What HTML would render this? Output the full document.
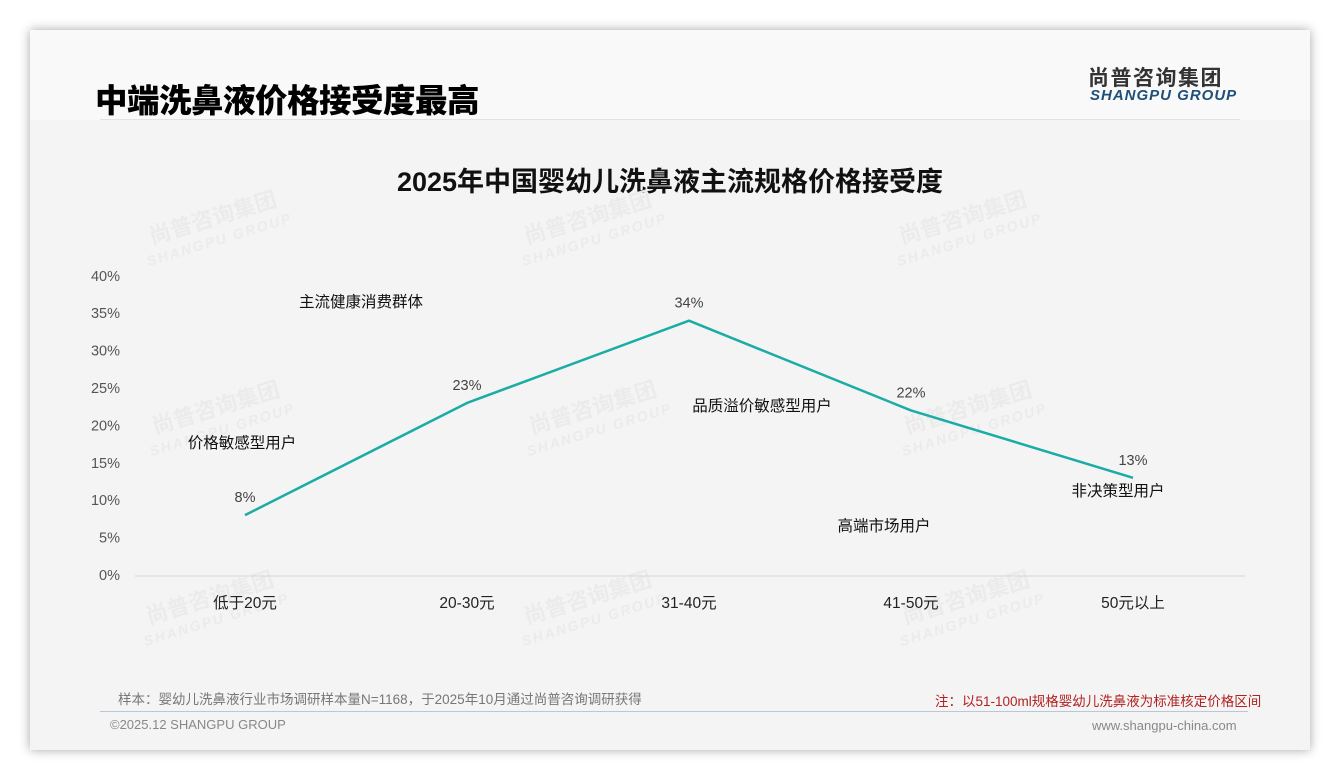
<!DOCTYPE html>
<html><head><meta charset="utf-8">
<style>
body{margin:0;width:1340px;height:780px;background:#fff;font-family:"Liberation Sans","Noto Sans CJK SC",sans-serif;position:relative;overflow:hidden}
.card{position:absolute;left:30px;top:30px;width:1280px;height:720px;background:#f4f4f4;box-shadow:0 0 10px rgba(0,0,0,0.35)}
.top{position:absolute;left:0;top:0;width:1280px;height:90px;background:#f9f9f9}
.abs{position:absolute;white-space:nowrap}
</style></head><body>
<div class="card">
<div class="top"></div>
</div>
<div class="abs" style="left:95px;top:75px;font-size:32.5px;font-weight:900;color:#000;letter-spacing:-0.5px">中端洗鼻液价格接受度最高</div>
<div class="abs" style="left:100px;top:119px;width:1140px;height:1px;background:#e2e2e2"></div>
<div class="abs" style="left:1088px;top:62px;font-size:21px;font-weight:bold;color:#333;letter-spacing:1.5px">尚普咨询集团</div>
<div class="abs" style="left:1090px;top:87px;font-size:15px;font-weight:bold;font-style:italic;color:#1e4f7a;letter-spacing:1px">SHANGPU GROUP</div>
<div class="abs" style="left:0;width:1340px;text-align:center;top:160px;font-size:27px;font-weight:bold;color:#111">2025年中国婴幼儿洗鼻液主流规格价格接受度</div>
<svg id="chart" width="1340" height="780" style="position:absolute;left:0;top:0"></svg>
<div class="abs" style="left:118px;top:688px;font-size:13.5px;color:#777">样本：婴幼儿洗鼻液行业市场调研样本量N=1168，于2025年10月通过尚普咨询调研获得</div>
<div class="abs" style="left:935px;top:690px;font-size:13.5px;color:#b22222">注：以51-100ml规格婴幼儿洗鼻液为标准核定价格区间</div>
<div class="abs" style="left:100px;top:711px;width:1148px;height:1px;background:#b8c8d8"></div>
<div class="abs" style="left:110px;top:717px;font-size:13px;color:#888">©2025.12 SHANGPU GROUP</div>
<div class="abs" style="left:1092px;top:718px;font-size:13px;color:#888">www.shangpu-china.com</div>
<script>
const categories=["低于20元","20-30元","31-40元","41-50元","50元以上"];
const values=[8,23,34,22,13];
const yTicks=[0,5,10,15,20,25,30,35,40];
const annotations=["价格敏感型用户","主流健康消费群体","品质溢价敏感型用户","高端市场用户","非决策型用户"];
const NS="http://www.w3.org/2000/svg";
const svg=document.getElementById('chart');
const x=i=>245+i*222;
const y=v=>575-v*7.48;
function mk(t,a){const e=document.createElementNS(NS,t);for(const k in a)e.setAttribute(k,a[k]);svg.appendChild(e);return e;}
[[215,225],[590,225],[965,225],[218,415],[595,415],[970,415],[212,605],[590,605],[968,605]].forEach(p=>{
 const g=mk('g',{transform:`translate(${p[0]},${p[1]}) rotate(-17)`});
 
 const t1=document.createElementNS(NS,'text');t1.setAttribute('text-anchor','middle');t1.setAttribute('font-size','22');t1.setAttribute('font-weight','bold');t1.setAttribute('fill','#ebebeb');t1.textContent='尚普咨询集团';g.appendChild(t1);
 const t2=document.createElementNS(NS,'text');t2.setAttribute('text-anchor','middle');t2.setAttribute('y','20');t2.setAttribute('font-size','14');t2.setAttribute('font-weight','bold');t2.setAttribute('font-style','italic');t2.setAttribute('fill','#ebebeb');t2.setAttribute('letter-spacing','2');t2.textContent='SHANGPU GROUP';g.appendChild(t2);
});
const base=mk('line',{x1:135,x2:1245,y1:y(0)+1,y2:y(0)+1,stroke:'#d6d6d6','stroke-width':1});

yTicks.forEach(v=>{const t=mk('text',{x:120,y:y(v)+5,'text-anchor':'end','font-size':14.5,fill:'#555'});t.textContent=v+'%';
});
categories.forEach((c,i)=>{const t=mk('text',{x:x(i),y:608,'text-anchor':'middle','font-size':15.5,fill:'#222'});t.textContent=c;
});
const line=mk('polyline',{points:values.map((v,i)=>x(i)+','+y(v)).join(' '),fill:'none',stroke:'#1aaca5','stroke-width':2.5,'stroke-linejoin':'round'});

values.forEach((v,i)=>{const t=mk('text',{x:x(i),y:y(v)-13,'text-anchor':'middle','font-size':14.5,fill:'#444'});t.textContent=v+'%';
});
const annPos=[[242,448],[361,307],[762,411],[884,531],[1118,496]];
annotations.forEach((a,i)=>{const t=mk('text',{x:annPos[i][0],y:annPos[i][1],'text-anchor':'middle','font-size':15.5,fill:'#111'});t.textContent=a;
});
</script>
</body></html>
